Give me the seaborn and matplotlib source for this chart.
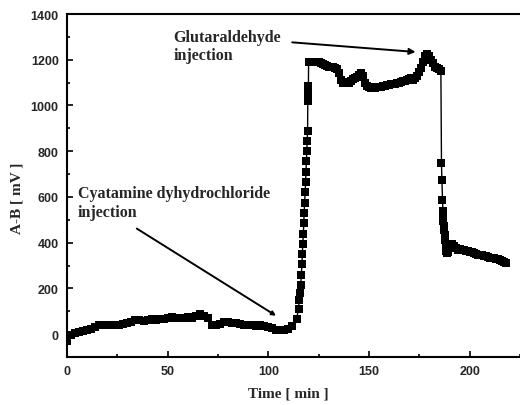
import numpy as np
import pandas as pd
import matplotlib
matplotlib.use("Agg")
import matplotlib.pyplot as plt
import seaborn as sns
from matplotlib.ticker import MultipleLocator

# values: time [min] and A-B signal [mV]
baseline_t = [0, 2, 4, 6, 8, 10, 12, 14, 16, 18, 20, 22, 24, 26, 28, 30, 32, 34, 36, 38,
              40, 42, 44, 46, 48, 50, 52, 54, 56, 58, 60, 62, 64, 66, 68, 70, 72, 74, 76, 78,
              80, 82, 84, 86, 88, 90, 92, 94, 96, 98, 100, 102, 104, 106, 108, 110, 112, 114]
baseline_mv = [-30, -5, 5, 10, 12, 18, 22, 30, 38, 42, 40, 40, 42, 42, 45, 48, 52, 60, 62, 58,
               62, 65, 62, 65, 68, 70, 75, 72, 70, 72, 75, 72, 78, 90, 80, 72, 38, 40, 45, 52,
               55, 50, 50, 45, 40, 42, 38, 35, 38, 35, 30, 25, 20, 18, 18, 22, 35, 65]

rise_t = [115.0, 115.4, 115.8, 116.1, 116.4, 116.7, 116.9, 117.1, 117.4, 117.6, 117.8, 118.0,
          118.3, 118.5, 118.7, 118.9, 119.1, 119.3, 119.5, 119.6, 119.7, 119.8, 119.9]
rise_mv = [110, 150, 180, 217, 260, 305, 350, 395, 440, 485, 530, 575,
           620, 665, 710, 755, 800, 845, 890, 1020, 1045, 1065, 1085]

plateau_t = list(range(120, 186))
plateau_mv = [1190, 1192, 1190, 1190, 1188, 1190, 1185, 1180, 1175, 1172, 1170, 1168, 1170,
              1165, 1160, 1140, 1110, 1100, 1102, 1100, 1100, 1108, 1115, 1120, 1125, 1135,
              1140, 1130, 1100, 1085, 1080, 1075, 1075, 1078, 1080, 1082, 1082, 1085, 1085,
              1088, 1090, 1092, 1092, 1095, 1098, 1100, 1102, 1105, 1108, 1110, 1115, 1120,
              1110, 1120, 1130, 1145, 1165, 1190, 1215, 1225, 1215, 1200, 1185, 1170, 1162, 1158]

drop_t = [185.7, 186.0, 186.2, 186.5, 186.7, 186.8, 187.0, 187.2, 187.4, 187.6, 187.8, 188.0,
          188.2, 188.5, 189.0, 189.5, 190, 191, 192, 193, 194, 195, 196, 197, 198, 199, 200,
          201, 202, 203, 204, 205, 206, 207, 208, 209, 210, 211, 212, 213, 214, 215, 216, 217, 218]
drop_mv = [1150, 750, 675, 585, 540, 515, 495, 475, 455, 435, 410, 385,
           365, 355, 360, 380, 395, 395, 385, 375, 370, 372, 370, 368, 365, 362, 360,
           358, 355, 350, 348, 345, 345, 342, 340, 338, 335, 335, 332, 330, 328, 325, 320, 315, 310]

df = pd.DataFrame({
    "time": baseline_t + rise_t + plateau_t + drop_t,
    "signal": baseline_mv + rise_mv + plateau_mv + drop_mv,
})

sns.set_style("ticks")
plt.rcParams["font.family"] = ["Liberation Sans", "DejaVu Sans"]

fig = plt.figure(figsize=(5.2, 4.06), dpi=100)
ax = fig.add_axes([67 / 520, 48 / 406, 453 / 520, 343 / 406])

sns.lineplot(data=df, x="time", y="signal", ax=ax, color="black", linewidth=1.0,
             marker="s", markersize=6, markeredgewidth=0, estimator=None, sort=False)

ax.set_xlim(0, 225)
ax.set_ylim(-100, 1400)
ax.xaxis.set_major_locator(MultipleLocator(50))
ax.xaxis.set_minor_locator(MultipleLocator(25))
ax.yaxis.set_major_locator(MultipleLocator(200))
ax.yaxis.set_minor_locator(MultipleLocator(100))
ax.tick_params(which="both", direction="in", width=1.2, color="black")
ax.tick_params(which="major", length=4, labelsize=9, pad=6)
ax.tick_params(which="minor", length=2.5)
for lab in ax.get_xticklabels() + ax.get_yticklabels():
    lab.set_fontweight("bold")

for side in ["left", "bottom", "top"]:
    ax.spines[side].set_linewidth(1.5)
    ax.spines[side].set_color("black")
ax.spines["right"].set_visible(False)

serif = ["Liberation Serif", "DejaVu Serif"]
ax.set_xlabel("Time [ min ]", family=serif, fontweight="bold", fontsize=11)
ax.set_ylabel("A-B [ mV ]", family=serif, fontweight="bold", fontsize=11)
ax.xaxis.set_label_coords(0.488, -0.085)
ax.yaxis.set_label_coords(-0.097, 0.466)

ax.annotate("", xy=(174.5, 1233), xytext=(110.5, 1277),
            arrowprops=dict(arrowstyle="-|>", color="black", lw=1.4, mutation_scale=9))
ax.text(53, 1335, "Glutaraldehyde\ninjection", family=serif, fontweight="bold",
        fontsize=11.5, va="top", ha="left", linespacing=1.2)

ax.annotate("", xy=(105, 74), xytext=(33.5, 468),
            arrowprops=dict(arrowstyle="-|>", color="black", lw=1.4, mutation_scale=6))
ax.text(5.5, 650, "Cyatamine dyhydrochloride\ninjection", family=serif, fontweight="bold",
        fontsize=11.5, va="top", ha="left", linespacing=1.2)

fig.savefig("out.png", dpi=100, facecolor="white")
